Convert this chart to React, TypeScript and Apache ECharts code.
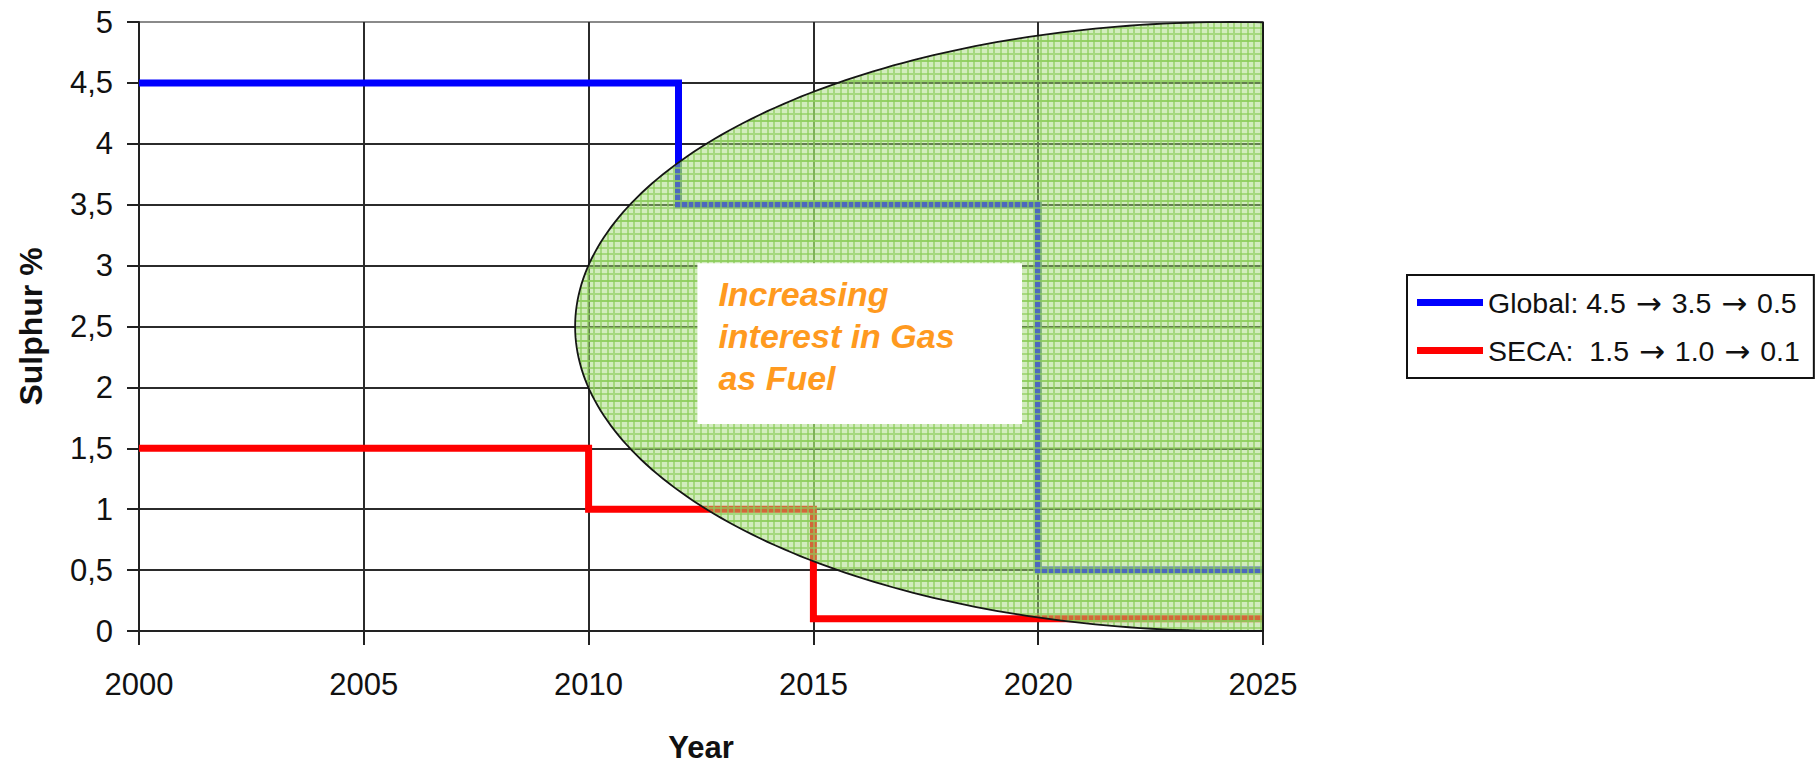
import React, { useEffect, useRef } from "react";
import * as echarts from "echarts";

// Sulphur limits (step lines): year where each limit starts, and the limit value
const globalYears = [2000, 2012, 2020, 2025];
const globalLimits = [4.5, 3.5, 0.5, 0.5];
const secaYears = [2000, 2010, 2015, 2025];
const secaLimits = [1.5, 1.0, 0.1, 0.1];

const seriesNames = ["Global: 4.5 \u2192 3.5 \u2192 0.5", "SECA:  1.5 \u2192 1.0 \u2192 0.1"];

// Axis ranges / ticks
const yearRange = [2000, 2025];
const yearStep = 5;
const sulphurRange = [0, 5];
const sulphurStep = 0.5;

// Gas-interest zone: ellipse [centre year, centre %, half width (years), half height (%)]
const gasZone = [2024.3, 2.5, 14.6, 2.5];

// Annotation box: [left year, top %, right year, bottom %]
const noteBox = [2012.42, 3.02, 2019.64, 1.7];
const noteText = "Increasing\ninterest in Gas\nas Fuel";

const FONT = '"Liberation Sans", Arial, sans-serif';

// Hatched fill tile for the gas zone: translucent green with a light green grid
function makePatternTile(): string {
  const size = 20;
  const c = document.createElement("canvas");
  c.width = size;
  c.height = size;
  const ctx = c.getContext("2d")!;
  ctx.fillStyle = "rgba(160,215,120,0.48)";
  ctx.fillRect(0, 0, size, size);
  ctx.fillStyle = "rgba(140,205,90,0.65)";
  for (const p of [0, 7, 13]) {
    ctx.fillRect(p, 0, 2, size);
    ctx.fillRect(0, p, p === 0 ? size : p, 2);
    ctx.fillRect(p + 2, p, size - p - 2, 2);
  }
  return c.toDataURL();
}

export default function App() {
  const ref = useRef<HTMLDivElement>(null);

  useEffect(() => {
    if (!ref.current) return;
    const chart = echarts.init(ref.current, undefined, { renderer: "svg" });
    const tile = makePatternTile();
    const pattern = { image: tile, repeat: "repeat", imageWidth: 20, imageHeight: 20 };

    const ySplitColors = Array.from({ length: 11 }, (_, i) => (i === 10 ? "#8a8a8a" : "#2b2b2b"));

    chart.setOption({
      animation: false,
      backgroundColor: "#ffffff",
      textStyle: { fontFamily: FONT },
      grid: { left: 139, right: 553, top: 22, bottom: 133, containLabel: false, outerBoundsMode: "none" },
      legend: {
        orient: "vertical",
        left: 1407,
        top: 275,
        padding: [12, 14, 12, 10],
        itemGap: 17,
        itemWidth: 66,
        itemHeight: 7,
        icon: "rect",
        borderColor: "#111",
        borderWidth: 2,
        data: seriesNames,
        formatter: (name: string) => name.split("\u2192").join("{ar|\u2192}"),
        textStyle: {
          fontSize: 28.5,
          lineHeight: 30,
          color: "#111",
          fontFamily: FONT,
          rich: {
            ar: {
              fontSize: 31,
              lineHeight: 30,
              padding: [0, 2, 0, 2],
              color: "#111",
              fontFamily: '"DejaVu Sans", sans-serif',
            },
          },
        },
      },
      xAxis: {
        type: "value",
        min: yearRange[0],
        max: yearRange[1],
        interval: yearStep,
        name: "Year",
        nameLocation: "middle",
        nameGap: 101,
        nameTextStyle: { fontSize: 31, fontWeight: "bold", color: "#111", fontFamily: FONT },
        axisLine: { show: true, lineStyle: { color: "#222", width: 2 } },
        axisTick: { show: true, inside: false, length: 14, lineStyle: { color: "#222", width: 2 } },
        axisLabel: { fontSize: 31, color: "#111", margin: 38, fontFamily: FONT, formatter: (v: number) => String(v) },
        splitLine: { show: true, lineStyle: { color: "#2b2b2b", width: 2 } },
      },
      yAxis: {
        type: "value",
        min: sulphurRange[0],
        max: sulphurRange[1],
        interval: sulphurStep,
        name: "Sulphur %",
        nameLocation: "middle",
        nameGap: 92,
        nameTextStyle: { fontSize: 32, fontWeight: "bold", color: "#111", fontFamily: FONT },
        axisLine: { show: true, lineStyle: { color: "#222", width: 2 } },
        axisTick: { show: true, inside: false, length: 12, lineStyle: { color: "#222", width: 2 } },
        axisLabel: {
          fontSize: 31,
          color: "#111",
          margin: 26,
          fontFamily: FONT,
          formatter: (v: number) => String(v).replace(".", ","),
        },
        splitLine: { show: true, lineStyle: { color: ySplitColors, width: 2 } },
      },
      series: [
        {
          name: seriesNames[0],
          type: "line",
          step: "end",
          symbol: "none",
          z: 2,
          color: "#0000ff",
          lineStyle: { width: 7, color: "#0000ff", join: "miter", cap: "butt" },
          data: globalYears.map((y, i) => [y, globalLimits[i]]),
        },
        {
          name: seriesNames[1],
          type: "line",
          step: "end",
          symbol: "none",
          z: 2,
          color: "#ff0000",
          lineStyle: { width: 7, color: "#ff0000", join: "miter", cap: "butt" },
          data: secaYears.map((y, i) => [y, secaLimits[i]]),
        },
        {
          name: "gasZone",
          type: "custom",
          z: 3,
          silent: true,
          data: [gasZone],
          renderItem: (_p: any, api: any) => {
            const cx = api.value(0);
            const cy = api.value(1);
            const rx = api.value(2);
            const ry = api.value(3);
            const pts: number[][] = [];
            for (let d = 0; d <= 360; d += 1) {
              const a = (d * Math.PI) / 180;
              const x = Math.min(cx + rx * Math.cos(a), yearRange[1]);
              const y = cy + ry * Math.sin(a);
              pts.push(api.coord([x, y]));
            }
            return {
              type: "polygon",
              shape: { points: pts },
              style: { fill: pattern, stroke: "#151515", lineWidth: 1.8 },
            };
          },
        },
        {
          name: "note",
          type: "custom",
          z: 4,
          silent: true,
          data: [noteBox],
          renderItem: (_p: any, api: any) => {
            const tl = api.coord([api.value(0), api.value(1)]);
            const br = api.coord([api.value(2), api.value(3)]);
            return {
              type: "group",
              children: [
                {
                  type: "rect",
                  shape: { x: tl[0], y: tl[1], width: br[0] - tl[0], height: br[1] - tl[1] },
                  style: { fill: "#ffffff" },
                },
                {
                  type: "text",
                  x: tl[0] + 21,
                  y: tl[1] + 10,
                  style: {
                    text: noteText,
                    fill: "#ff9a1f",
                    fontSize: 34,
                    fontWeight: "bold",
                    fontStyle: "italic",
                    fontFamily: FONT,
                    lineHeight: 42,
                    align: "left",
                    verticalAlign: "top",
                  },
                },
              ],
            };
          },
        },
      ],
    });

    return () => chart.dispose();
  }, []);

  return (
    <div
      ref={ref}
      style={{ position: "fixed", left: 0, top: 0, width: 1816, height: 764, background: "#fff" }}
    />
  );
}
